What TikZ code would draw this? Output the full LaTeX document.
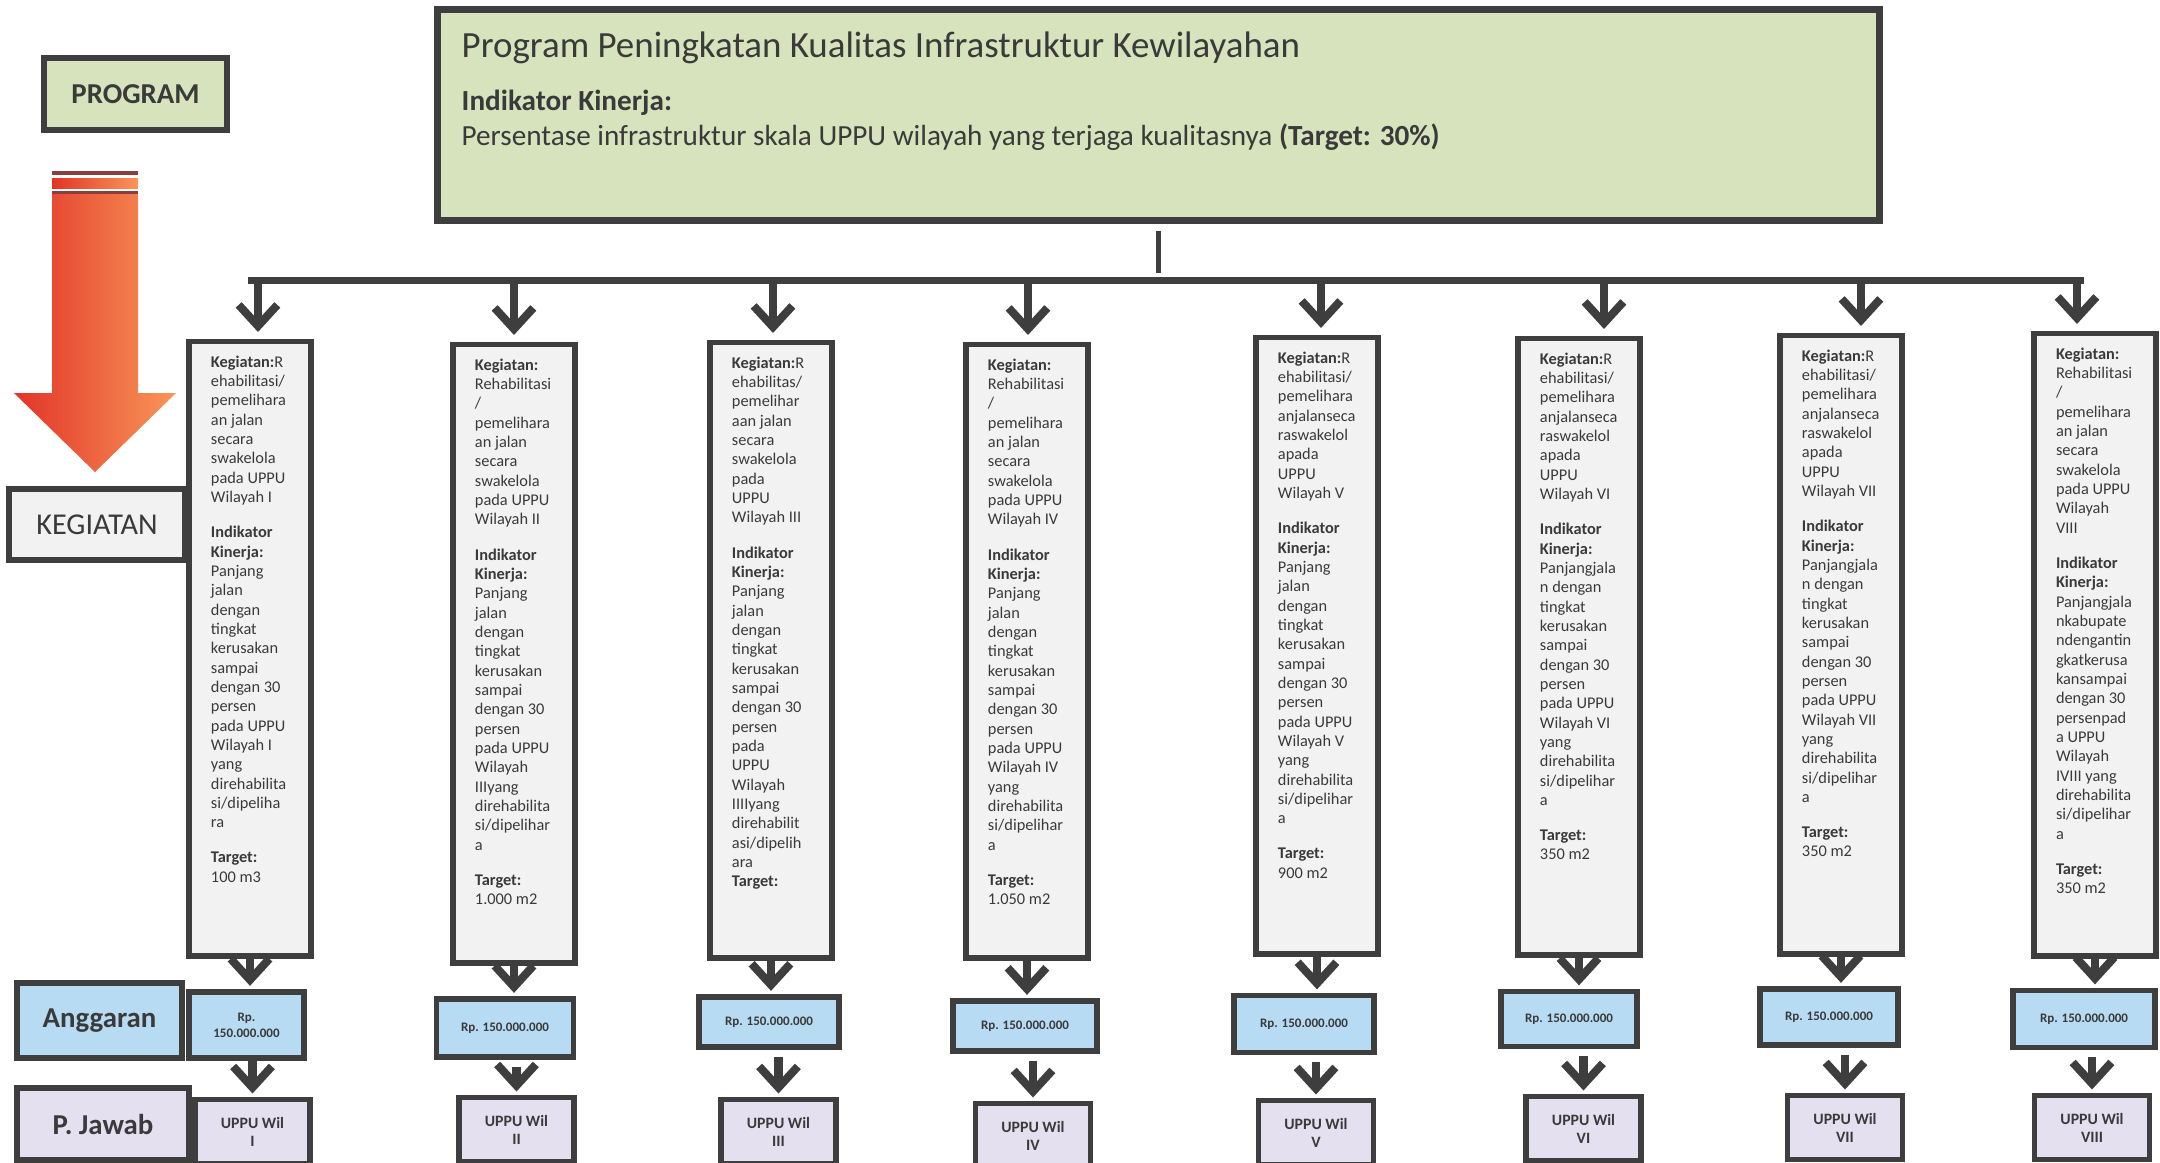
\documentclass[tikz,border=0pt]{standalone}
\usepackage{fontspec}
\setmainfont{Carlito}
\usetikzlibrary{arrows.meta,positioning}

\definecolor{progGreen}{RGB}{214,227,188}
\definecolor{kegGray}{RGB}{242,242,242}
\definecolor{angBlue}{RGB}{183,219,242}
\definecolor{pjPurple}{RGB}{229,224,240}
\definecolor{edgeDark}{RGB}{62,62,62}
\definecolor{txtDark}{RGB}{58,58,58}
\definecolor{arrRed}{RGB}{226,52,40}
\definecolor{arrOrange}{RGB}{248,150,88}
\definecolor{arrDark}{RGB}{140,62,60}

\begin{document}
\begin{tikzpicture}[x=0.01cm,y=-0.01cm]
	\def \busy{280}
	\def \gap{4.5pt}
	\tikzstyle{box}=[draw=edgeDark,line width=1.5pt,inner sep=0pt,text=txtDark]
	\tikzstyle{l-node}=[box,font=\fontsize{8.2}{9.8}\selectfont\bfseries]
	\tikzstyle{k-node}=[box,fill=kegGray,anchor=north,inner xsep=0.22cm,inner ysep=0.14cm,font=\fontsize{4.65}{5.5}\selectfont]
	\tikzstyle{a-node}=[box,fill=angBlue,align=center,font=\fontsize{3.7}{4.6}\selectfont\bfseries]
	\tikzstyle{p-node}=[box,fill=pjPurple,anchor=north,minimum width=1.15cm,minimum height=0.64cm,align=center,font=\fontsize{4.5}{5.2}\selectfont\bfseries]
	\tikzstyle{annot}=[anchor=base west,inner sep=0pt,text=txtDark]
	\tikzstyle{flow}=[draw=edgeDark,line width=2.3pt,-{Straight Barb[length=6pt,width=11pt]},shorten >=1pt]
	\def\kbody#1#2{\parbox[t][#1][t]{0.78cm}{\hyphenpenalty=10000 #2}}

	\useasboundingbox (0,0) rectangle (2160,1162);
	\clip (0,0) rectangle (2160,1162);

	% labels
	\node[l-node,fill=progGreen,minimum width=1.83cm,minimum height=0.72cm] (lprog) at (135.5,94) {PROGRAM};
	\node[l-node,fill=kegGray,minimum width=1.76cm,minimum height=0.71cm,font=\fontsize{8.6}{10}\selectfont] (lkeg) at (97,524.5) {KEGIATAN};
	\node[l-node,fill=angBlue,minimum width=1.65cm,minimum height=0.75cm] (lang) at (99.5,1020.5) {Anggaran};
	\node[l-node,fill=pjPurple,minimum width=1.72cm,minimum height=0.72cm] (lpj) at (103,1124) {P. Jawab};

	% big arrow
	\fill[arrDark] (52,171) rectangle (138,175);
	\shade[left color=arrRed,right color=arrOrange] (52,178) rectangle (138,188);
	\fill[arrDark] (52,191) rectangle (138,194);
	\shade[left color=arrRed,right color=arrOrange] (52,194) -- (138,194) -- (138,393) -- (176,393) -- (95,472) -- (14,393) -- (52,393) -- cycle;

	% program
	\node[box,fill=progGreen,line width=2pt,minimum width=14.41cm,minimum height=2.1cm] (prog) at (1158.5,115) {};
	\node[annot,font=\fontsize{10.5}{12.6}\selectfont] (progname) at (461,57) {Program Peningkatan Kualitas Infrastruktur Kewilayahan};
	\node[annot,font=\fontsize{8.3}{10}\selectfont\bfseries] (progind) at (461,110) {Indikator Kinerja:};
	\node[annot,font=\fontsize{8.3}{10}\selectfont] (progtgt) at (461,145) {Persentase infrastruktur skala UPPU wilayah yang terjaga kualitasnya \textbf{(Target: 30\%)}};

	% kegiatan
	\node[k-node] (k1) at (250,339) {\kbody{5.86cm}{\textbf{Kegiatan:}R\\ ehabilitasi/\\ pemelihara\\ an jalan\\ secara\\ swakelola\\ pada UPPU\\ Wilayah I\\[\gap]
		\textbf{Indikator}\\ \textbf{Kinerja:}\\ Panjang\\ jalan\\ dengan\\ tingkat\\ kerusakan\\ sampai\\ dengan 30\\ persen\\ pada UPPU\\ Wilayah I\\ yang\\ direhabilita\\ si/dipeliha\\ ra\\[\gap]
		\textbf{Target:}\\ 100 m3}};
	\node[k-node] (k2) at (514,342) {\kbody{5.90cm}{\textbf{Kegiatan:}\\ Rehabilitasi\\ /\\ pemelihara\\ an jalan\\ secara\\ swakelola\\ pada UPPU\\ Wilayah II\\[\gap]
		\textbf{Indikator}\\ \textbf{Kinerja:}\\ Panjang\\ jalan\\ dengan\\ tingkat\\ kerusakan\\ sampai\\ dengan 30\\ persen\\ pada UPPU\\ Wilayah\\ IIIyang\\ direhabilita\\ si/dipelihar\\ a\\[\gap]
		\textbf{Target:}\\ 1.000 m2}};
	\node[k-node] (k3) at (771,340) {\kbody{5.87cm}{\textbf{Kegiatan:}R\\ ehabilitas/\\ pemelihar\\ aan jalan\\ secara\\ swakelola\\ pada\\ UPPU\\ Wilayah III\\[\gap]
		\textbf{Indikator}\\ \textbf{Kinerja:}\\ Panjang\\ jalan\\ dengan\\ tingkat\\ kerusakan\\ sampai\\ dengan 30\\ persen\\ pada\\ UPPU\\ Wilayah\\ IIIIyang\\ direhabilit\\ asi/dipelih\\ ara\\
		\textbf{Target:}}};
	\node[k-node] (k4) at (1027,342) {\kbody{5.85cm}{\textbf{Kegiatan:}\\ Rehabilitasi\\ /\\ pemelihara\\ an jalan\\ secara\\ swakelola\\ pada UPPU\\ Wilayah IV\\[\gap]
		\textbf{Indikator}\\ \textbf{Kinerja:}\\ Panjang\\ jalan\\ dengan\\ tingkat\\ kerusakan\\ sampai\\ dengan 30\\ persen\\ pada UPPU\\ Wilayah IV\\ yang\\ direhabilita\\ si/dipelihar\\ a\\[\gap]
		\textbf{Target:}\\ 1.050 m2}};
	\node[k-node] (k5) at (1317,335) {\kbody{5.88cm}{\textbf{Kegiatan:}R\\ ehabilitasi/\\ pemelihara\\ anjalanseca\\ raswakelol\\ apada\\ UPPU\\ Wilayah V\\[\gap]
		\textbf{Indikator}\\ \textbf{Kinerja:}\\ Panjang\\ jalan\\ dengan\\ tingkat\\ kerusakan\\ sampai\\ dengan 30\\ persen\\ pada UPPU\\ Wilayah V\\ yang\\ direhabilita\\ si/dipelihar\\ a\\[\gap]
		\textbf{Target:}\\ 900 m2}};
	\node[k-node] (k6) at (1579,336) {\kbody{5.88cm}{\textbf{Kegiatan:}R\\ ehabilitasi/\\ pemelihara\\ anjalanseca\\ raswakelol\\ apada\\ UPPU\\ Wilayah VI\\[\gap]
		\textbf{Indikator}\\ \textbf{Kinerja:}\\ Panjangjala\\ n dengan\\ tingkat\\ kerusakan\\ sampai\\ dengan 30\\ persen\\ pada UPPU\\ Wilayah VI\\ yang\\ direhabilita\\ si/dipelihar\\ a\\[\gap]
		\textbf{Target:}\\ 350 m2}};
	\node[k-node] (k7) at (1841,333) {\kbody{5.90cm}{\textbf{Kegiatan:}R\\ ehabilitasi/\\ pemelihara\\ anjalanseca\\ raswakelol\\ apada\\ UPPU\\ Wilayah VII\\[\gap]
		\textbf{Indikator}\\ \textbf{Kinerja:}\\ Panjangjala\\ n dengan\\ tingkat\\ kerusakan\\ sampai\\ dengan 30\\ persen\\ pada UPPU\\ Wilayah VII\\ yang\\ direhabilita\\ si/dipelihar\\ a\\[\gap]
		\textbf{Target:}\\ 350 m2}};
	\node[k-node] (k8) at (2095,331) {\kbody{5.94cm}{\textbf{Kegiatan:}\\ Rehabilitasi\\ /\\ pemelihara\\ an jalan\\ secara\\ swakelola\\ pada UPPU\\ Wilayah\\ VIII\\[\gap]
		\textbf{Indikator}\\ \textbf{Kinerja:}\\ Panjangjala\\ nkabupate\\ ndengantin\\ gkatkerusa\\ kansampai\\ dengan 30\\ persenpad\\ a UPPU\\ Wilayah\\ IVIII yang\\ direhabilita\\ si/dipelihar\\ a\\[\gap]
		\textbf{Target:}\\ 350 m2}};

	% anggaran
	\node[a-node,minimum width=1.15cm,minimum height=0.66cm] (a1) at (246.5,1025) {Rp.\\150.000.000};
	\node[a-node,minimum width=1.37cm,minimum height=0.58cm] (a2) at (505,1028) {Rp. 150.000.000};
	\node[a-node,minimum width=1.40cm,minimum height=0.50cm] (a3) at (769,1022) {Rp. 150.000.000};
	\node[a-node,minimum width=1.44cm,minimum height=0.50cm] (a4) at (1025,1026) {Rp. 150.000.000};
	\node[a-node,minimum width=1.40cm,minimum height=0.57cm] (a5) at (1304,1024) {Rp. 150.000.000};
	\node[a-node,minimum width=1.36cm,minimum height=0.55cm] (a6) at (1569,1019) {Rp. 150.000.000};
	\node[a-node,minimum width=1.38cm,minimum height=0.56cm] (a7) at (1829,1017) {Rp. 150.000.000};
	\node[a-node,minimum width=1.42cm,minimum height=0.57cm] (a8) at (2084,1019) {Rp. 150.000.000};

	% p. jawab
	\node[p-node] (p1) at (252.5,1097) {UPPU Wil\\I};
	\node[p-node] (p2) at (516.5,1095) {UPPU Wil\\II};
	\node[p-node] (p3) at (778.5,1097) {UPPU Wil\\III};
	\node[p-node] (p4) at (1033,1101) {UPPU Wil\\IV};
	\node[p-node] (p5) at (1316,1098) {UPPU Wil\\V};
	\node[p-node] (p6) at (1583.5,1094) {UPPU Wil\\VI};
	\node[p-node] (p7) at (1845,1093) {UPPU Wil\\VII};
	\node[p-node] (p8) at (2092,1093) {UPPU Wil\\VIII};

	% bus
	\coordinate (busw) at (248,\busy);
	\coordinate (buse) at (2084,\busy);
	\coordinate (b1) at (258,\busy);
	\coordinate (b2) at (514,\busy);
	\coordinate (b3) at (773,\busy);
	\coordinate (b4) at (1028,\busy);
	\coordinate (b5) at (1321,\busy);
	\coordinate (b6) at (1604,\busy);
	\coordinate (b7) at (1861,\busy);
	\coordinate (b8) at (2077,\busy);
	\draw[edgeDark,line width=1.4pt,shorten <=0.07cm,shorten >=0.07cm] (prog.south) -- (prog.south |- busw);
	\draw[edgeDark,line width=2pt] (busw) -- (buse);

	\foreach \i in {1,...,8}
		\draw[flow,shorten >=2pt] (b\i) -- (b\i |- k\i.north);
	\foreach \i in {1,...,8}
		\draw[flow] (k\i.south) -- (k\i.south |- a\i.north);
	\draw[flow] (p1.north |- a1.south) -- (p1.north);
	\foreach \i in {2,...,8}
		\draw[flow,shorten <=0.07cm] (p\i.north |- a\i.south) -- (p\i.north);
\end{tikzpicture}
\end{document}
